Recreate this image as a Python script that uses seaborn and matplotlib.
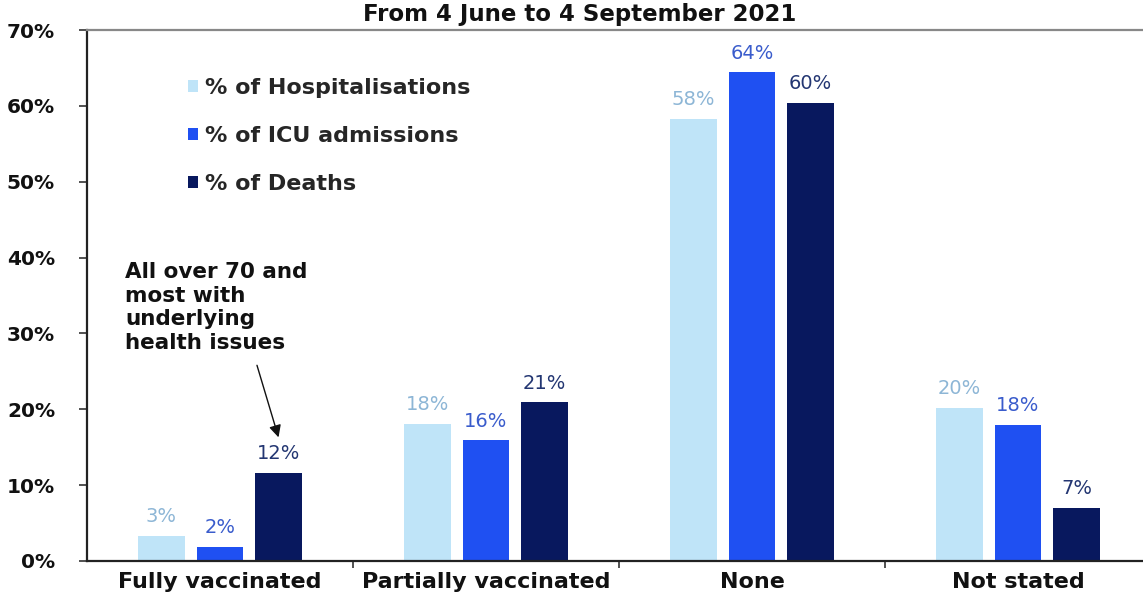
import matplotlib
matplotlib.use("Agg")
import matplotlib.pyplot as plt
from matplotlib.patches import Patch
from matplotlib.ticker import FuncFormatter, FixedLocator
import pandas as pd
import seaborn as sns

# Vaccination status of COVID-19 cases, 4 June - 4 September 2021
categories = ["Fully vaccinated", "Partially vaccinated", "None", "Not stated"]
series = ["% of Hospitalisations", "% of ICU admissions", "% of Deaths"]
hospitalisations = [3.3, 18.1, 58.3, 20.2]
icu_admissions = [1.9, 15.9, 64.4, 17.9]
deaths = [11.6, 20.9, 60.4, 7.0]
y_ticks = [0, 10, 20, 30, 40, 50, 60, 70]

bar_colors = ["#bfe4f8", "#1f50f2", "#08185e"]
label_colors = ["#8db6d6", "#3a5ccc", "#233672"]

sns.set_style("white")
plt.rcParams["font.family"] = ["DejaVu Sans"]

df = pd.DataFrame({
    "status": categories * 3,
    "series": [s for s in series for _ in categories],
    "value": hospitalisations + icu_admissions + deaths,
})

fig = plt.figure(figsize=(11.43, 5.99), dpi=100)
ax = fig.add_axes([87 / 1143, 1 - 561 / 599, (1151 - 87) / 1143, (561 - 30) / 599])

sns.barplot(data=df, x="status", y="value", hue="series", order=categories,
            hue_order=series, palette=bar_colors, width=0.66, gap=0.2,
            saturation=1, linewidth=0, ax=ax, legend=False)

for container, col in zip(ax.containers, label_colors):
    ax.bar_label(container, labels=[f"{round(b.get_height())}%" for b in container],
                 padding=7, fontsize=14, color=col)

ax.set_xlim(-0.5, 3.5)
ax.set_ylim(0, 70)
ax.set_yticks(y_ticks)
ax.yaxis.set_major_formatter(FuncFormatter(lambda v, _: f"{v:.0f}%"))
ax.tick_params(axis="y", which="major", left=True, length=6, width=1.2,
               color="#333333", labelsize=14.5, labelcolor="#111111", pad=17)
ax.set_xticks(range(len(categories)))
ax.set_xticklabels(categories)
ax.tick_params(axis="x", which="major", length=0, labelsize=16,
               labelcolor="#111111", pad=8)
for lbl in ax.get_xticklabels() + ax.get_yticklabels():
    lbl.set_fontweight("bold")
ax.xaxis.set_minor_locator(FixedLocator([0.5, 1.5, 2.5]))
ax.tick_params(axis="x", which="minor", bottom=True, length=5, width=1.2,
               color="#333333")
ax.set_xlabel("")
ax.set_ylabel("")

for side in ["left", "bottom"]:
    ax.spines[side].set_color("#222222")
    ax.spines[side].set_linewidth(1.6)
ax.spines["top"].set_color("#888888")
ax.spines["top"].set_linewidth(1.6)
ax.spines["right"].set_visible(False)

handles = [Patch(facecolor=c, edgecolor="none") for c in bar_colors]
ax.legend(handles, series, loc="upper left",
          bbox_to_anchor=(188 / 1143, 1 - 78 / 599), bbox_transform=fig.transFigure,
          frameon=False, handlelength=0.45, handleheight=0.45,
          handletextpad=0.3, labelspacing=1.25, borderpad=0, borderaxespad=0,
          prop={"size": 16, "weight": "bold"})

ax.annotate("All over 70 and\nmost with\nunderlying\nhealth issues",
            xy=(0.22, 16.3), xytext=(-0.357, 39.4),
            ha="left", va="top", fontsize=15.5, fontweight="bold",
            color="#111111", linespacing=1.22, annotation_clip=False)
ax.annotate("", xy=(0.22, 16.3), xytext=(0.139, 25.8),
            arrowprops=dict(arrowstyle="-|>", color="#111111", lw=1.0,
                            mutation_scale=18, shrinkA=0, shrinkB=0))

fig.text(580 / 1143, 1 - 15 / 599, "From 4 June to 4 September 2021",
         ha="center", va="center", fontsize=16.5, fontweight="bold", color="#111111")

fig.savefig("out.png", dpi=100)
